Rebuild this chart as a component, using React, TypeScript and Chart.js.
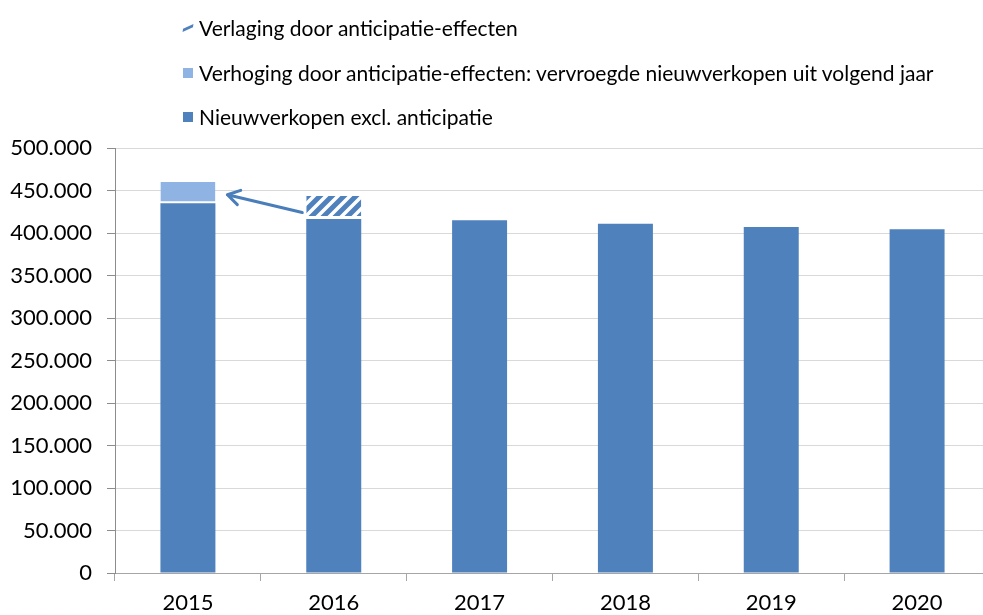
import React, { useEffect, useRef } from 'react';
import { Chart, registerables } from 'chart.js';
Chart.register(...registerables);

const years = ['2015', '2016', '2017', '2018', '2019', '2020'];
const baseSales = [435000, 416500, 415000, 411000, 407000, 404500];
const increaseSales = [25000, null, null, null, null, null];
const decreaseSales = [null, 27000, null, null, null, null];
const legendLabels = [
  'Verlaging door anticipatie-effecten',
  'Verhoging door anticipatie-effecten: vervroegde nieuwverkopen uit volgend jaar',
  'Nieuwverkopen excl. anticipatie',
];

const BLUE = '#4f81bd';
const LIGHT = '#8fb4e3';
const FONT = 'Lato, "Open Sans", sans-serif';

function makeHatch(color: string): CanvasPattern | string {
  const s = 12;
  const c = document.createElement('canvas');
  c.width = s;
  c.height = s;
  const g = c.getContext('2d');
  if (!g) return color;
  g.fillStyle = '#ffffff';
  g.fillRect(0, 0, s, s);
  g.strokeStyle = color;
  g.lineWidth = 5;
  g.beginPath();
  g.moveTo(-s, s * 2);
  g.lineTo(s * 2, -s);
  g.moveTo(-s, s);
  g.lineTo(s, -s);
  g.moveTo(0, s * 2);
  g.lineTo(s * 2, 0);
  g.stroke();
  const p = g.createPattern(c, 'repeat');
  return p || color;
}

function fmt(v: number): string {
  return String(Math.round(v)).replace(/\B(?=(\d{3})+(?!\d))/g, '.');
}

const arrowPlugin = {
  id: 'arrowPlugin',
  afterDatasetsDraw(chart: any) {
    const inc = chart.getDatasetMeta(1).data[0];
    const dec = chart.getDatasetMeta(2).data[1];
    if (!inc || !dec) return;
    const a = inc.getProps(['x', 'y', 'base', 'width'], true);
    const b = dec.getProps(['x', 'y', 'base', 'width'], true);
    const x1 = b.x - b.width / 2 - 4;
    const y1 = b.y + (b.base - b.y) * 0.72;
    const x2 = a.x + a.width / 2 + 12;
    const y2 = a.y + (a.base - a.y) * 0.6;
    const ctx = chart.ctx;
    ctx.save();
    ctx.strokeStyle = '#4a7ebb';
    ctx.lineWidth = 3;
    ctx.lineCap = 'round';
    ctx.lineJoin = 'round';
    ctx.beginPath();
    ctx.moveTo(x1, y1);
    ctx.lineTo(x2, y2);
    const ang = Math.atan2(y1 - y2, x1 - x2);
    const L = 14;
    const sp = 0.55;
    ctx.moveTo(x2 + L * Math.cos(ang + sp), y2 + L * Math.sin(ang + sp));
    ctx.lineTo(x2, y2);
    ctx.lineTo(x2 + L * Math.cos(ang - sp), y2 + L * Math.sin(ang - sp));
    ctx.stroke();
    ctx.restore();
  },
};

export default function App() {
  const ref = useRef<HTMLCanvasElement | null>(null);

  useEffect(() => {
    if (!ref.current) return;
    const hatch = makeHatch(BLUE);
    const chart = new Chart(ref.current, {
      type: 'bar',
      data: {
        labels: years,
        datasets: [
          {
            label: legendLabels[2],
            data: baseSales,
            backgroundColor: BLUE,
            borderWidth: 0,
            barPercentage: 0.377,
            categoryPercentage: 1,
          },
          {
            label: legendLabels[1],
            data: increaseSales as any,
            backgroundColor: LIGHT,
            borderColor: '#ffffff',
            borderWidth: { top: 0, left: 0, right: 0, bottom: 2 } as any,
            borderSkipped: false,
            barPercentage: 0.377,
            categoryPercentage: 1,
          },
          {
            label: legendLabels[0],
            data: decreaseSales as any,
            backgroundColor: hatch as any,
            borderColor: '#ffffff',
            borderWidth: { top: 0, left: 0, right: 0, bottom: 3 } as any,
            borderSkipped: false,
            barPercentage: 0.377,
            categoryPercentage: 1,
          },
        ],
      },
      options: {
        animation: false,
        responsive: false,
        devicePixelRatio: 1,
        layout: { padding: { top: 148, left: 0, right: 0, bottom: 0 } },
        plugins: {
          legend: { display: false },
          tooltip: { enabled: false },
        },
        scales: {
          x: {
            stacked: true,
            offset: true,
            grid: {
              offset: true,
              drawOnChartArea: false,
              drawTicks: true,
              tickLength: 8,
              color: '#a6a6a6',
              tickColor: '#a6a6a6',
            },
            border: { color: '#a6a6a6', width: 1 },
            ticks: {
              color: '#000000',
              font: { family: FONT, size: 22 },
              padding: 9,
              maxRotation: 0,
            },
            afterFit(scale: any) {
              scale.height = 42;
            },
          },
          y: {
            stacked: true,
            min: 0,
            max: 500000,
            grid: {
              color: '#d9d9d9',
              tickColor: '#8c8c8c',
              tickLength: 8,
              lineWidth: 1,
            },
            border: { color: '#8c8c8c', width: 1 },
            ticks: {
              stepSize: 50000,
              color: '#000000',
              font: { family: FONT, size: 22 },
              padding: 15,
              callback: (v: any) => fmt(Number(v)),
            },
            afterFit(scale: any) {
              scale.width = 115;
            },
          },
        },
      },
      plugins: [arrowPlugin],
    });
    return () => chart.destroy();
  }, []);

  const markerBase: React.CSSProperties = {
    position: 'absolute',
    left: 0,
    top: '50%',
    width: 10,
    height: 10,
    marginTop: -5,
  };

  const rows = [
    { label: legendLabels[0], kind: 'hatch', top: 28 },
    { label: legendLabels[1], kind: 'light', top: 73 },
    { label: legendLabels[2], kind: 'base', top: 117 },
  ];

  return (
    <div
      style={{
        position: 'fixed',
        left: 0,
        top: 0,
        width: 983,
        height: 615,
        overflow: 'hidden',
        background: '#ffffff',
      }}
    >
      <canvas
        ref={ref}
        width={990}
        height={615}
        style={{ position: 'absolute', left: 0, top: 0, width: 990, height: 615, display: 'block' }}
      />
      {rows.map((r) => (
        <div
          key={r.label}
          style={{
            position: 'absolute',
            left: 183,
            top: r.top - 14,
            height: 28,
            lineHeight: '28px',
            paddingLeft: 16,
            fontFamily: FONT,
            fontSize: 21,
            color: '#000000',
            whiteSpace: 'nowrap',
          }}
        >
          {r.kind === 'hatch' ? (
            <span
              style={{
                ...markerBase,
                width: 8,
                height: 4,
                marginTop: -2,
                background: BLUE,
                transform: 'skewX(-40deg) rotate(-35deg)',
                left: 1,
              }}
            />
          ) : (
            <span style={{ ...markerBase, background: r.kind === 'light' ? LIGHT : BLUE }} />
          )}
          {r.label}
        </div>
      ))}
    </div>
  );
}
